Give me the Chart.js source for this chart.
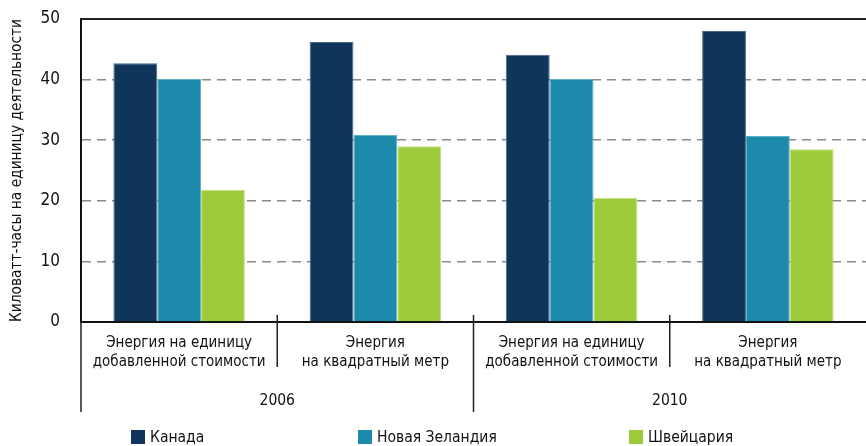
<!DOCTYPE html>
<html>
<head>
<meta charset="utf-8">
<script src="https://cdn.jsdelivr.net/npm/chart.js@4/dist/chart.umd.min.js"></script>
<style>
html,body{margin:0;padding:0;background:#fff;}
#wrap{width:866px;height:446px;position:relative;}
</style>
</head>
<body>
<div id="wrap"><canvas id="c" width="866" height="446"></canvas></div>
<script>
const categories = [
  ["Энергия на единицу", "добавленной стоимости"],
  ["Энергия", "на квадратный метр"],
  ["Энергия на единицу", "добавленной стоимости"],
  ["Энергия", "на квадратный метр"]
];
const years = ["2006", "2010"];
const seriesNames = ["Канада", "Новая Зеландия", "Швейцария"];
const canada = [42.7, 46.2, 44.1, 48.0];
const newZealand = [40.1, 30.9, 40.1, 30.7];
const switzerland = [21.8, 29.0, 20.5, 28.5];
const yTicks = [0, 10, 20, 30, 40, 50];
const yTitle = "Киловатт-часы на единицу деятельности";

const colors = ["#10355a", "#1e8aab", "#9dcb3b"];
const borderColors = ["#4a6a8a", "#5fb0c8", "#c0e080"];
const FONT = "'DejaVu Sans Condensed', 'Roboto', sans-serif";

const extras = {
  id: 'extras',
  afterDraw(chart) {
    const ctx = chart.ctx;
    const x = chart.scales.x, y = chart.scales.y;
    const ca = chart.chartArea;
    ctx.save();
    ctx.strokeStyle = '#222';
    ctx.lineWidth = 2;
    ctx.beginPath();
    const yTop = y.getPixelForValue(yTicks[yTicks.length - 1]);
    ctx.moveTo(ca.left, yTop);
    ctx.lineTo(ca.right, yTop);
    ctx.stroke();
    ctx.strokeStyle = '#222';
    ctx.lineWidth = 1.5;
    const n = categories.length;
    const perYear = n / years.length;
    ctx.beginPath();
    ctx.moveTo(ca.left, ca.bottom);
    ctx.lineTo(ca.left, ca.bottom + 90);
    ctx.stroke();
    for (let i = 0; i < n - 1; i++) {
      const bx = (x.getPixelForValue(i) + x.getPixelForValue(i + 1)) / 2;
      const long = (i + 1) % perYear === 0;
      ctx.beginPath();
      ctx.moveTo(bx, ca.bottom - 7);
      ctx.lineTo(bx, ca.bottom + (long ? 90 : 45));
      ctx.stroke();
    }
    ctx.fillStyle = '#111';
    ctx.font = '15.5px ' + FONT;
    ctx.textAlign = 'center';
    ctx.textBaseline = 'middle';
    years.forEach((yr, k) => {
      const first = x.getPixelForValue(k * perYear);
      const last = x.getPixelForValue(k * perYear + perYear - 1);
      ctx.fillText(yr, (first + last) / 2, ca.bottom + 79);
    });
    const legendX = [131, 358, 629];
    const ly = 437;
    ctx.textAlign = 'left';
    seriesNames.forEach((name, i) => {
      ctx.fillStyle = colors[i];
      ctx.fillRect(legendX[i], ly - 7, 14, 14);
      ctx.fillStyle = '#111';
      ctx.fillText(name, legendX[i] + 19, ly + 1);
    });
    ctx.restore();
  }
};

new Chart(document.getElementById('c'), {
  type: 'bar',
  data: {
    labels: categories,
    datasets: [
      { label: seriesNames[0], data: canada, backgroundColor: colors[0], borderColor: borderColors[0], borderWidth: 1 },
      { label: seriesNames[1], data: newZealand, backgroundColor: colors[1], borderColor: borderColors[1], borderWidth: 1 },
      { label: seriesNames[2], data: switzerland, backgroundColor: colors[2], borderColor: borderColors[2], borderWidth: 1 }
    ]
  },
  options: {
    responsive: false,
    animation: false,
    devicePixelRatio: 1,
    layout: { padding: { top: 19, right: 0, left: 0, bottom: 0 } },
    datasets: { bar: { categoryPercentage: 0.67, barPercentage: 1.0 } },
    plugins: { legend: { display: false }, tooltip: { enabled: false } },
    scales: {
      x: {
        grid: { display: false, drawTicks: false },
        border: { display: true, color: '#111', width: 2 },
        ticks: { color: '#111', font: { family: FONT, size: 15, lineHeight: 1.27 }, padding: 12, maxRotation: 0, autoSkip: false },
        afterFit(s) { s.height = 124; s.paddingLeft = 0; s.paddingRight = 0; }
      },
      y: {
        min: 0, max: 50,
        afterBuildTicks(s) { s.ticks = yTicks.map(v => ({ value: v })); },
        grid: {
          drawTicks: false,
          color: ctx => (ctx.tick && (ctx.tick.value === 0 || ctx.tick.value === 50)) ? 'rgba(0,0,0,0)' : '#8a8a8a',
          lineWidth: 1.5
        },
        border: { display: true, color: '#111', width: 2, dash: [9, 6] },
        ticks: { color: '#111', font: { family: FONT, size: 17 }, padding: 21 },
        title: { display: true, text: yTitle, color: '#111', font: { family: FONT, size: 15.3 }, padding: { top: 8, bottom: 0 } },
        afterFit(s) { s.width = 81; s.paddingTop = 0; s.paddingBottom = 0; }
      }
    }
  },
  plugins: [extras]
});
</script>
</body>
</html>
